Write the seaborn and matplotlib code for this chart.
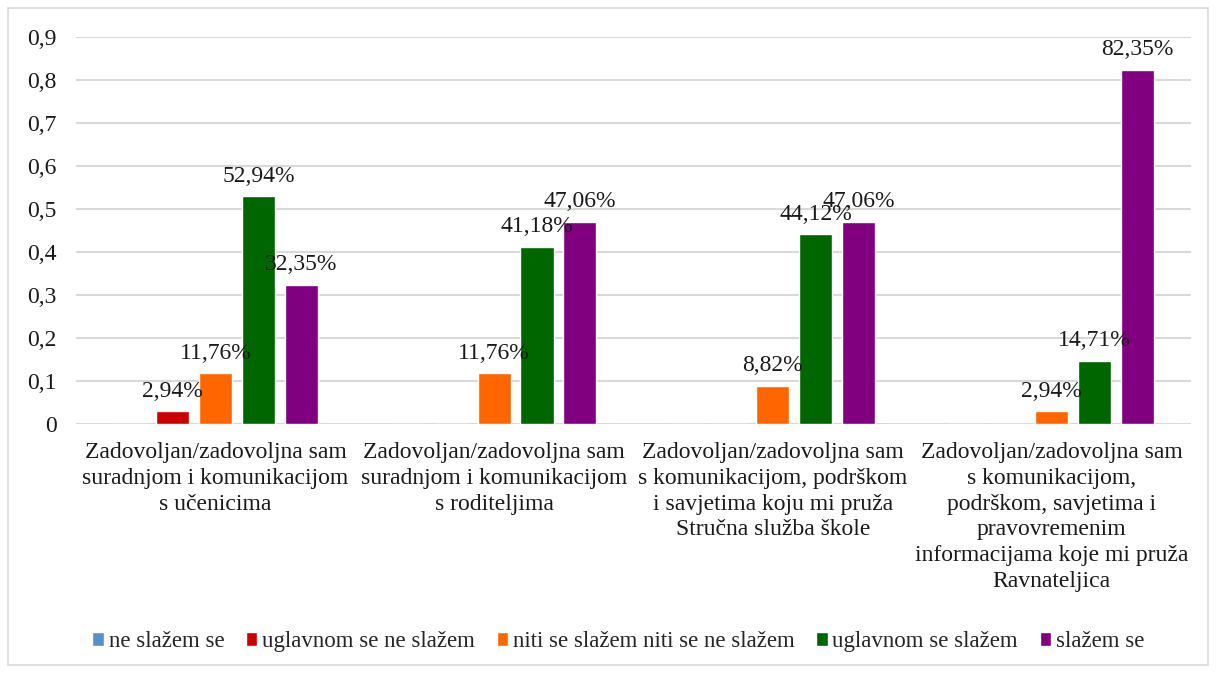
import pandas as pd
import matplotlib.pyplot as plt
import seaborn as sns
from matplotlib.patches import Rectangle

categories = [
    'Zadovoljan/zadovoljna sam\nsuradnjom i komunikacijom\ns učenicima',
    'Zadovoljan/zadovoljna sam\nsuradnjom i komunikacijom\ns roditeljima',
    'Zadovoljan/zadovoljna sam\ns komunikacijom, podrškom\ni savjetima koju mi pruža\nStručna služba škole',
    'Zadovoljan/zadovoljna sam\ns komunikacijom,\npodrškom, savjetima i\npravovremenim\ninformacijama koje mi pruža\nRavnateljica',
]
series = ['ne slažem se', 'uglavnom se ne slažem', 'niti se slažem niti se ne slažem',
          'uglavnom se slažem', 'slažem se']
ne_slazem = [0, 0, 0, 0]
uglavnom_ne = [0.0294, 0, 0, 0]
niti = [0.1176, 0.1176, 0.0882, 0.0294]
uglavnom_da = [0.5294, 0.4118, 0.4412, 0.1471]
slazem = [0.3235, 0.4706, 0.4706, 0.8235]
colors = ['#5B8FC9', '#CC0000', '#FF6600', '#006600', '#800080']
yticks = [0, 0.1, 0.2, 0.3, 0.4, 0.5, 0.6, 0.7, 0.8, 0.9]

rows = []
for name, vals in zip(series, [ne_slazem, uglavnom_ne, niti, uglavnom_da, slazem]):
    for cat, v in zip(categories, vals):
        rows.append({'kategorija': cat, 'odgovor': name, 'vrijednost': v})
df = pd.DataFrame(rows)

sns.set_style('white')
plt.rcParams['font.family'] = ['Liberation Serif', 'DejaVu Serif']

fig = plt.figure(figsize=(12.17, 6.73), dpi=100)
ax = fig.add_axes([0.0625, 0.37, 0.916, 0.575])
sns.barplot(data=df, x='kategorija', y='vrijednost', hue='odgovor', hue_order=series,
            palette=colors, width=0.77, gap=0.23, saturation=1, ax=ax, errorbar=None)

# data labels only for non-zero bars, Croatian decimal comma
for cont in ax.containers:
    labels = [f'{b.get_height() * 100:.2f}%'.replace('.', ',') if b.get_height() > 0 else ''
              for b in cont]
    ax.bar_label(cont, labels=labels, padding=7, fontsize=17, color='#1a1a1a')

ax.set_ylim(0, 0.9)
ax.set_yticks(yticks, ['0'] + [f'{t:.1f}'.replace('.', ',') for t in yticks[1:]])
ax.set_xlim(-0.5, 3.5)
ax.yaxis.grid(True, color='#D9D9D9', linewidth=1.5)
ax.set_axisbelow(True)
for s in ax.spines.values():
    s.set_visible(False)
ax.tick_params(axis='y', length=0, pad=14, labelsize=17, labelcolor='#1a1a1a')
ax.tick_params(axis='x', length=0, pad=13, labelsize=17, labelcolor='#1a1a1a')
for t in ax.get_xticklabels():
    t.set_linespacing(1.3)
ax.set_xlabel('')
ax.set_ylabel('')

handles, labs = ax.get_legend_handles_labels()
ax.get_legend().remove()
fig.legend(handles, labs, loc='center', bbox_to_anchor=(0.508, 0.047), ncol=5, frameon=False,
           fontsize=16.5, handlelength=0.5, handleheight=0.6, handletextpad=0.2,
           columnspacing=0.95)

fig.patches.append(Rectangle((8 / 1217, 8 / 673), 1200 / 1217, 657 / 673,
                             transform=fig.transFigure, fill=False,
                             edgecolor='#D9D9D9', linewidth=1.2))

fig.savefig('out.png', dpi=100)
